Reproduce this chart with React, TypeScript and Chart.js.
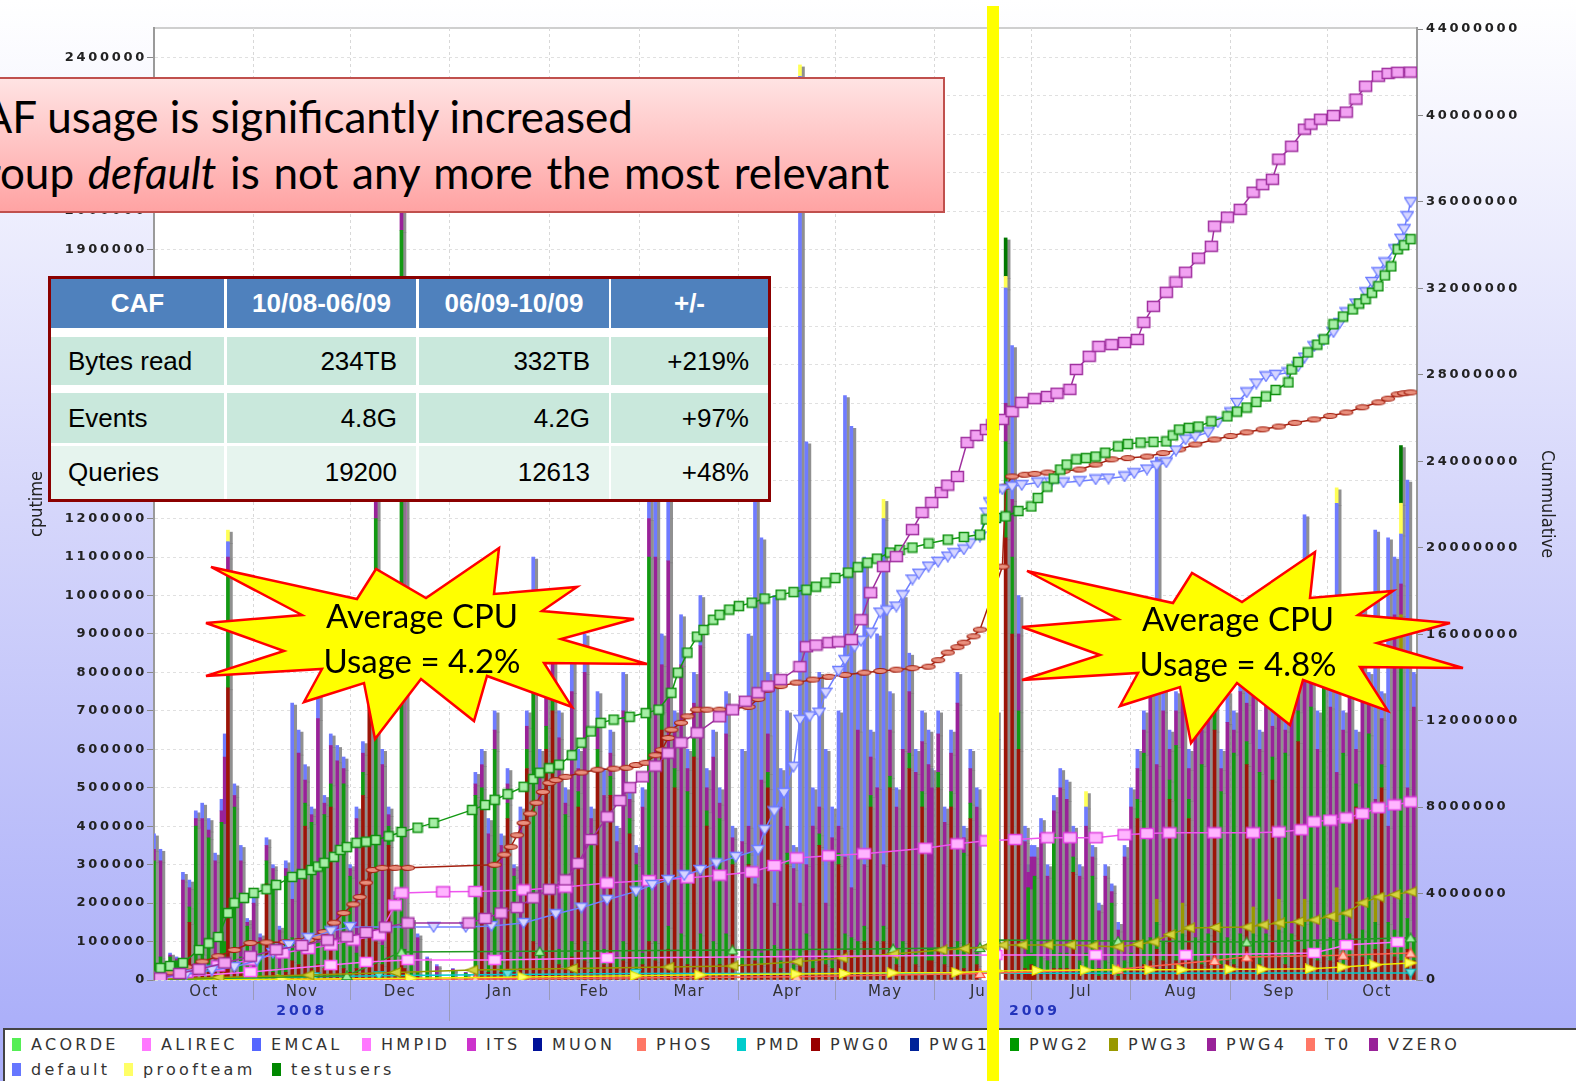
import React, { useEffect, useRef } from 'react';
import { Chart, registerables } from 'chart.js';
Chart.register(...registerables);

// ---------------- axis data ----------------
const MONTH_NAMES = ['Oct', 'Nov', 'Dec', 'Jan', 'Feb', 'Mar', 'Apr', 'May', 'Jun', 'Jul', 'Aug', 'Sep', 'Oct'];
const MONTH_MID_DAYS = [15.5, 46, 76.5, 107.5, 137, 166.5, 197, 227.5, 258, 288.5, 319.5, 350, 380.5];
const MONTH_START_DAYS = [31, 61, 92, 123, 151, 182, 212, 243, 273, 304, 335, 365];
const YEAR_LABELS = ['2008', '2009'];
const YEAR_LABEL_DAYS = [46, 274];
const YEAR_BREAK_DAY = 92;
const DAY_MIN = 0;
const DAY_MAX = 393;
const LEFT_TICKS = [0, 100000, 200000, 300000, 400000, 500000, 600000, 700000, 800000, 900000, 1000000, 1100000, 1200000, 1300000, 1400000, 1500000, 1600000, 1700000, 1800000, 1900000, 2000000, 2100000, 2200000, 2300000, 2400000];
const LEFT_MAX = 2476000;
const RIGHT_TICKS = [0, 4000000, 8000000, 12000000, 16000000, 20000000, 24000000, 28000000, 32000000, 36000000, 40000000, 44000000];
const RIGHT_MAX = 44050000;

// ---------------- daily cputime bars (thousands) ----------------
const BAR_DAYS = [
  0, 2, 5, 7, 9, 11, 13, 15, 17, 19, 21, 22, 23, 25, 27, 29,
  31, 33, 35, 37, 39, 41, 43, 45, 47, 49, 51, 53, 55, 57, 59,
  61, 63, 65, 67, 69, 71, 73, 75, 77, 78, 80, 82, 85, 88,
  93, 97, 100, 102, 104, 106, 108, 110, 112, 114, 116, 118, 120, 122,
  124, 126, 128, 130, 132, 134, 136, 138, 140, 142, 144, 146, 148, 150,
  152, 154, 156, 158, 160, 162, 164, 166, 168, 170, 172, 174, 176, 178, 180,
  183, 185, 187, 189, 191, 193, 195, 197, 199, 201, 203, 205, 207, 209, 211,
  213, 215, 217, 219, 221, 223, 225, 227, 229, 231, 233, 235, 237, 239, 241,
  242, 244, 246, 248, 250, 252, 254, 256, 262, 265, 267, 269, 271, 272, 273,
  274, 276, 278, 280, 282, 284, 286, 288, 290, 292, 294, 296, 298, 300, 302,
  304, 306, 308, 310, 312, 314, 316, 318, 320, 322, 324, 326, 328, 330, 332, 334,
  336, 338, 340, 342, 344, 346, 348, 350, 352, 354, 356, 358, 360, 362, 364,
  366, 368, 370, 372, 374, 376, 378, 380, 382, 384, 386, 388, 390, 392,
];
const PWG0_K = [
  10, 20, 5, 0, 20, 150, 20, 30, 20, 20, 30, 40, 760, 30, 20, 10,
  10, 10, 250, 20, 10, 20, 50, 40, 400, 30, 40, 30, 450, 40, 30,
  20, 30, 480, 800, 100, 40, 350, 20, 50, 30, 10, 10, 5, 5,
  5, 2, 30, 450, 20, 50, 20, 420, 20, 30, 550, 100, 30, 600,
  700, 40, 30, 60, 450, 50, 20, 550, 40, 480, 30, 50, 380, 20,
  40, 100, 50, 650, 80, 500, 60, 40, 580, 60, 400, 60, 40, 60, 300,
  40, 300, 50, 40, 500, 60, 30, 300, 20, 50, 80, 30, 350, 40, 30,
  300, 80, 80, 60, 100, 450, 60, 100, 500, 40, 60, 550, 40, 450, 50,
  50, 500, 40, 450, 60, 30, 420, 40, 500, 1150, 900, 600, 30, 20, 40,
  20, 20, 20, 30, 30, 30, 280, 20, 30, 20, 10, 20, 20, 10, 20,
  30, 420, 40, 50, 80, 50, 470, 50, 60, 420, 50, 40, 60, 650, 40, 50,
  40, 60, 560, 60, 40, 60, 520, 60, 40, 60, 620, 80, 60, 50, 60,
  50, 80, 40, 60, 450, 60, 40, 80, 500, 80, 60, 50, 80, 50,
];
const PWG2_K = [
  300, 40, 55, 50, 30, 40, 380, 40, 350, 30, 380, 60, 300, 420, 40, 130,
  20, 90, 60, 240, 20, 250, 60, 50, 60, 380, 60, 400, 60, 60, 480,
  250, 40, 60, 50, 1100, 50, 50, 190, 1900, 50, 130, 10, 45, 5,
  20, 15, 450, 50, 30, 550, 30, 40, 250, 30, 50, 800, 40, 60,
  50, 40, 400, 40, 40, 50, 360, 50, 40, 50, 30, 50, 40, 280,
  30, 1000, 50, 50, 60, 50, 60, 450, 60, 60, 40, 40, 380, 60, 30,
  20, 30, 30, 30, 40, 30, 20, 30, 20, 30, 40, 20, 30, 30, 20,
  30, 40, 30, 40, 40, 30, 40, 40, 30, 30, 40, 40, 30, 40, 30,
  30, 40, 30, 40, 40, 300, 40, 30, 40, 250, 200, 100, 30, 220, 30,
  250, 40, 30, 350, 40, 40, 40, 30, 40, 250, 20, 30, 180, 10, 30,
  40, 50, 550, 60, 70, 50, 50, 560, 60, 50, 60, 520, 60, 80, 450, 60,
  550, 60, 60, 60, 500, 60, 60, 70, 550, 60, 80, 70, 650, 50, 750,
  60, 70, 550, 60, 60, 70, 600, 70, 60, 70, 70, 800, 80, 60,
];
const PWG4_K = [
  30, 250, 5, 5, 210, 50, 20, 350, 20, 260, 30, 480, 40, 30, 250, 10,
  170, 10, 40, 30, 100, 20, 100, 500, 60, 20, 580, 30, 100, 470, 40,
  20, 350, 50, 30, 60, 470, 30, 10, 60, 70, 10, 90, 5, 25,
  3, 2, 30, 60, 330, 50, 300, 50, 20, 350, 60, 100, 480, 100,
  100, 550, 30, 650, 60, 700, 40, 80, 400, 60, 300, 600, 50, 30,
  380, 100, 1000, 120, 950, 100, 700, 60, 80, 750, 60, 480, 40, 520, 40,
  300, 70, 170, 450, 100, 110, 400, 70, 250, 120, 180, 350, 70, 130, 320,
  70, 200, 130, 550, 160, 100, 400, 160, 120, 380, 500, 160, 470, 130, 480,
  420, 100, 340, 100, 620, 40, 90, 380, 90, 100, 150, 200, 300, 40, 250,
  50, 320, 220, 60, 430, 400, 50, 220, 330, 50, 150, 220, 30, 110, 270,
  380, 80, 60, 700, 350, 600, 80, 90, 700, 80, 600, 90, 650, 120, 60, 560,
  60, 630, 100, 680, 60, 630, 80, 720, 60, 580, 100, 850, 80, 500, 80,
  600, 300, 60, 700, 90, 770, 90, 250, 120, 250, 820, 80, 340, 600,
];
const DEFAULT_K = [
  40, 30, 5, 5, 20, 20, 20, 40, 30, 20, 30, 60, 40, 30, 40, 10,
  20, 10, 20, 10, 10, 20, 510, 60, 40, 20, 60, 20, 30, 40, 30,
  10, 30, 30, 20, 40, 40, 20, 10, 40, 50, 10, 10, 5, 5,
  2, 1, 30, 40, 40, 50, 30, 40, 10, 40, 40, 100, 50, 40,
  100, 70, 40, 100, 50, 100, 30, 70, 70, 60, 40, 100, 30, 20,
  50, 100, 150, 80, 170, 50, 130, 50, 80, 130, 50, 70, 40, 110, 30,
  240, 500, 1000, 630, 160, 800, 100, 300, 60, 2150, 1100, 100, 350, 400, 80,
  300, 1200, 1200, 150, 800, 70, 400, 900, 100, 50, 400, 100, 60, 80, 90,
  50, 60, 40, 60, 80, 30, 50, 50, 70, 300, 400, 100, 40, 20, 30,
  30, 40, 30, 40, 50, 50, 30, 30, 50, 30, 20, 30, 20, 20, 30,
  50, 50, 50, 90, 800, 100, 50, 50, 80, 50, 90, 50, 80, 100, 50, 80,
  50, 100, 80, 100, 50, 100, 90, 100, 50, 100, 100, 150, 60, 100, 60,
  90, 700, 50, 80, 50, 100, 70, 700, 70, 750, 150, 130, 800, 90,
];
const ITS_DAYS = [78];
const ITS_K = [1150];
const PWG3_DAYS = [312, 320, 330, 342, 350, 358, 368, 380, 388];
const PWG3_K = [60, 80, 50, 70, 80, 60, 90, 70, 100];
const PROOF_DAYS = [23, 201, 227, 265, 290, 368, 388];
const PROOF_K = [30, 30, 50, 30, 40, 40, 80];
const TEST_DAYS = [265, 388];
const TEST_K = [100, 150];

// ---------------- cumulative lines (millions) ----------------
const A_DAYS = [2, 8, 14, 22, 30, 38, 46, 54, 60, 66, 72, 79, 98, 103, 108, 113, 118, 123, 128, 132, 136, 141, 145, 148, 152, 156, 160, 164, 169, 176, 180, 184, 188, 191, 195, 201, 203, 206, 210, 213, 217, 220, 223, 227, 231, 236, 239, 242, 245, 247, 250, 253, 256, 259, 261, 264, 267, 270, 274, 278, 281, 285, 287, 291, 294, 298, 302, 306, 308, 311, 315, 318, 321, 325, 329, 330, 334, 338, 342, 345, 348, 350, 354, 358, 360, 363, 367, 371, 374, 377, 381, 384, 387, 391];
const A_M = [0.09, 0.3, 0.5, 0.79, 1.1, 1.4, 1.6, 1.85, 2.0, 2.2, 2.45, 2.64, 2.64, 2.85, 3.10, 3.35, 3.8, 4.2, 4.63, 5.4, 6.5, 7.55, 8.3, 8.9, 9.40, 9.9, 10.5, 10.98, 11.44, 12.18, 12.5, 12.9, 13.29, 13.6, 13.90, 14.50, 15.42, 15.5, 15.61, 15.65, 15.75, 16.67, 17.92, 19.13, 19.59, 20.84, 21.63, 22.1, 22.56, 22.9, 23.30, 24.87, 25.2, 25.47, 25.7, 25.94, 26.3, 26.73, 26.9, 27.00, 27.15, 27.33, 28.25, 28.86, 29.32, 29.4, 29.50, 29.64, 30.43, 31.17, 31.82, 32.3, 32.75, 33.4, 33.95, 34.88, 35.3, 35.66, 36.45, 36.8, 37.05, 37.98, 38.58, 39.37, 39.6, 39.83, 40.0, 40.16, 40.76, 41.36, 41.82, 41.95, 42.0, 42.01];
const B_DAYS = [2, 5, 9, 14, 17, 20, 23, 25, 28, 31, 35, 38, 43, 46, 49, 51, 53, 56, 58, 60, 63, 66, 69, 73, 77, 82, 87, 99, 103, 106, 110, 115, 118, 120, 123, 126, 130, 133, 136, 139, 143, 148, 153, 157, 161, 163, 166, 169, 171, 174, 176, 179, 182, 186, 190, 195, 199, 203, 206, 209, 212, 216, 219, 222, 225, 229, 232, 236, 241, 247, 252, 257, 259, 262, 265, 269, 273, 275, 278, 280, 282, 284, 287, 290, 293, 296, 300, 303, 307, 311, 315, 317, 319, 322, 325, 329, 334, 337, 340, 343, 346, 349, 353, 354, 356, 359, 362, 364, 367, 370, 373, 375, 377, 379, 381, 383, 385, 387, 389, 391];
const B_M = [0.56, 0.65, 0.79, 1.39, 1.7, 1.99, 3.10, 3.57, 3.8, 4.03, 4.2, 4.40, 4.77, 4.9, 5.09, 5.25, 5.42, 5.7, 6.02, 6.15, 6.35, 6.4, 6.48, 6.65, 6.85, 7.05, 7.27, 7.87, 8.1, 8.34, 8.6, 8.94, 9.3, 9.59, 9.8, 9.96, 10.4, 10.98, 11.5, 11.90, 12.05, 12.18, 12.35, 12.51, 13.29, 14.22, 15.15, 15.89, 16.2, 16.67, 16.9, 17.14, 17.3, 17.46, 17.65, 17.83, 17.95, 18.06, 18.2, 18.39, 18.6, 18.85, 19.1, 19.31, 19.5, 19.78, 19.9, 20.01, 20.2, 20.38, 20.5, 20.61, 21.31, 21.38, 21.45, 21.7, 21.91, 22.3, 22.83, 23.2, 23.62, 23.85, 24.09, 24.15, 24.22, 24.4, 24.69, 24.8, 24.87, 24.9, 24.92, 25.2, 25.47, 25.55, 25.61, 25.85, 26.08, 26.3, 26.49, 26.75, 27.00, 27.3, 27.65, 28.25, 28.6, 29.04, 29.4, 29.64, 30.34, 30.7, 31.03, 31.3, 31.50, 31.8, 32.10, 32.6, 33.02, 33.81, 34.0, 34.28];
const C_DAYS = [2, 10, 18, 25, 32, 37, 42, 48, 55, 61, 87, 97, 105, 115, 125, 133, 141, 150, 155, 160, 165, 170, 175, 181, 188, 190, 193, 196, 199, 201, 204, 207, 209, 213, 215, 218, 220, 223, 226, 228, 231, 233, 236, 238, 241, 244, 247, 249, 252, 254, 257, 259, 260, 262, 264, 267, 270, 275, 279, 283, 288, 293, 297, 302, 305, 309, 312, 315, 318, 321, 324, 328, 331, 335, 337, 340, 343, 346, 349, 353, 356, 358, 361, 364, 367, 369, 371, 374, 377, 379, 381, 383, 386, 388, 389, 390, 391];
const C_M = [0.09, 0.25, 0.45, 0.60, 0.9, 1.25, 1.62, 1.95, 2.25, 2.45, 2.45, 2.45, 2.5, 2.64, 3.05, 3.35, 3.71, 4.1, 4.4, 4.63, 4.85, 5.09, 5.4, 5.7, 6.02, 6.95, 7.8, 8.66, 9.87, 12.04, 12.2, 12.37, 13.29, 14.3, 14.8, 15.42, 15.7, 16.07, 17.00, 17.1, 17.28, 17.8, 18.53, 18.8, 19.13, 19.35, 19.59, 19.75, 19.92, 20.2, 20.52, 21.63, 22.1, 22.56, 22.7, 22.83, 22.9, 23.02, 23.02, 23.02, 23.08, 23.16, 23.2, 23.30, 23.45, 23.62, 23.8, 23.95, 24.5, 25.01, 25.15, 25.34, 25.8, 26.26, 26.7, 27.19, 27.6, 27.93, 28.0, 28.11, 28.39, 28.8, 29.32, 29.6, 29.97, 30.4, 30.89, 31.3, 31.82, 32.3, 32.75, 33.2, 33.81, 34.3, 34.74, 35.34, 35.99];
const D_DAYS = [1, 5, 10, 15, 20, 25, 30, 35, 41, 45, 48, 51, 53, 56, 59, 62, 64, 66, 68, 71, 75, 79, 106, 109, 111, 113, 115, 117, 119, 121, 123, 125, 128, 133, 138, 143, 147, 150, 153, 156, 158, 160, 161, 164, 166, 169, 172, 176, 180, 185, 188, 191, 195, 200, 205, 210, 215, 221, 226, 231, 236, 241, 244, 247, 250, 252, 255, 257, 264, 265, 267, 271, 274, 278, 283, 288, 293, 298, 303, 309, 314, 319, 324, 330, 335, 340, 345, 350, 355, 361, 366, 371, 376, 381, 384, 387, 389, 391];
const D_M = [0.14, 0.35, 0.6, 0.85, 1.1, 1.39, 1.71, 1.74, 1.76, 1.8, 1.85, 2.0, 2.22, 2.65, 3.10, 3.5, 3.84, 4.5, 5.09, 5.19, 5.19, 5.19, 5.33, 5.8, 6.16, 6.7, 7.27, 7.7, 8.20, 8.7, 9.12, 9.25, 9.40, 9.6, 9.73, 9.78, 9.82, 9.95, 10.05, 10.4, 10.65, 11.2, 11.58, 11.90, 12.2, 12.51, 12.51, 12.51, 12.55, 12.64, 13.0, 13.43, 13.6, 13.76, 13.9, 14.03, 14.12, 14.22, 14.3, 14.36, 14.43, 14.50, 14.8, 15.15, 15.4, 15.61, 15.9, 16.21, 19.13, 22.83, 23.30, 23.38, 23.42, 23.48, 23.55, 23.62, 23.85, 24.09, 24.15, 24.22, 24.38, 24.55, 24.78, 25.01, 25.17, 25.34, 25.48, 25.61, 25.78, 25.94, 26.1, 26.26, 26.5, 26.73, 26.9, 27.10, 27.15, 27.19];
const E_DAYS = [2, 10, 20, 30, 40, 48, 55, 62, 70, 75, 77, 90, 100, 115, 128, 141, 154, 166, 176, 186, 193, 200, 210, 221, 240, 250, 259, 268, 278, 285, 293, 302, 309, 316, 330, 342, 350, 357, 361, 366, 371, 376, 381, 386, 391];
const E_M = [0.14, 0.35, 0.65, 0.93, 1.25, 1.45, 1.62, 1.85, 2.08, 3.47, 4.03, 4.08, 4.1, 4.17, 4.3, 4.49, 4.6, 4.72, 4.85, 5.00, 5.3, 5.65, 5.75, 5.84, 6.1, 6.3, 6.44, 6.5, 6.58, 6.58, 6.58, 6.72, 6.78, 6.81, 6.81, 6.81, 6.85, 6.95, 7.32, 7.4, 7.50, 7.7, 7.97, 8.1, 8.24];
const F_DAYS = [2, 30, 55, 66, 79, 106, 141, 262, 293, 321, 361, 371, 387];
const F_M = [0.09, 0.37, 0.69, 0.83, 0.93, 0.93, 1.02, 1.16, 1.16, 1.16, 1.25, 1.62, 1.76];
const G_DAYS = [2, 20, 48, 75, 99, 130, 160, 180, 200, 214, 230, 245, 252, 259, 264, 270, 278, 285, 292, 300, 306, 311, 316, 322, 330, 340, 345, 350, 356, 361, 366, 371, 376, 381, 386, 391];
const G_M = [0.05, 0.12, 0.23, 0.35, 0.46, 0.53, 0.60, 0.65, 0.85, 1.02, 1.2, 1.39, 1.45, 1.53, 1.62, 1.62, 1.62, 1.62, 1.58, 1.53, 1.65, 1.76, 2.1, 2.41, 2.43, 2.45, 2.55, 2.64, 2.7, 2.78, 2.95, 3.10, 3.57, 3.84, 3.95, 4.08];
const H_DAYS = [2, 60, 77, 120, 180, 230, 257, 262, 300, 340, 391];
const H_M = [0.02, 0.20, 1.30, 1.33, 1.39, 1.45, 1.50, 1.85, 1.80, 1.76, 1.95];
const I_DAYS = [2, 40, 80, 115, 150, 170, 200, 215, 230, 250, 262, 275, 290, 300, 310, 320, 335, 345, 360, 370, 380, 391];
const I_M = [0.0, 0.04, 0.08, 0.14, 0.2, 0.24, 0.28, 0.3, 0.33, 0.35, 0.42, 0.44, 0.46, 0.47, 0.47, 0.48, 0.5, 0.5, 0.52, 0.6, 0.7, 0.79];
const J_DAYS = [2, 100, 200, 257, 300, 330, 340, 370, 391];
const J_M = [0.0, 0.05, 0.15, 0.30, 0.50, 0.90, 1.07, 1.15, 1.25];
const K_DAYS = [2, 50, 70, 110, 150, 391];
const K_M = [0.0, 0.15, 0.2, 0.25, 0.3, 0.32];

// ---------------- legend / overlays ----------------
const LEGEND_ROW1 = ['ACORDE', 'ALIREC', 'EMCAL', 'HMPID', 'ITS', 'MUON', 'PHOS', 'PMD', 'PWG0', 'PWG1', 'PWG2', 'PWG3', 'PWG4', 'T0', 'VZERO'];
const LEGEND_ROW1_COLORS = ['#55ee55', '#ff77ff', '#5566ff', '#ff77ff', '#cc33cc', '#001199', '#ff7766', '#00cccc', '#990000', '#002299', '#009900', '#999900', '#992299', '#ff7766', '#992299'];
const LEGEND_ROW1_X = [12, 142, 252, 362, 467, 533, 637, 737, 811, 910, 1010, 1109, 1207, 1306, 1369];
const LEGEND_ROW2 = ['default', 'proofteam', 'testusers'];
const LEGEND_ROW2_COLORS = ['#6677ff', '#ffff66', '#008800'];
const LEGEND_ROW2_X = [12, 124, 272];

const TABLE_HEAD = ['CAF', '10/08-06/09', '06/09-10/09', '+/-'];
const TABLE_ROWS = [
  ['Bytes read', '234TB', '332TB', '+219%'],
  ['Events', '4.8G', '4.2G', '+97%'],
  ['Queries', '19200', '12613', '+48%'],
];
const BURST_POINTS: [number, number][] = [[1027, 571], [1173, 603], [1192, 573], [1242, 602], [1315, 552], [1310, 598], [1393, 591], [1358, 615], [1450, 623], [1377, 643], [1463, 668], [1360, 667], [1388, 711], [1303, 680], [1290, 725], [1237, 683], [1191, 743], [1180, 687], [1120, 706], [1138, 673], [1022, 680], [1100, 655], [1022, 627], [1118, 619]];
const CPU_USAGE = ['4.2%', '4.8%'];

const W = 1576;
const H = 1081;

function marker(w: number, h: number, shape: string, fill: string, stroke: string, lw = 1.3) {
  const c = document.createElement('canvas');
  c.width = w + 2;
  c.height = h + 2;
  const g = c.getContext('2d')!;
  g.fillStyle = fill;
  g.strokeStyle = stroke;
  g.lineWidth = lw;
  const x0 = 1, y0 = 1;
  g.beginPath();
  if (shape === 'rect') g.rect(x0 + 0.5, y0 + 0.5, w - 1, h - 1);
  else if (shape === 'ell') g.ellipse(x0 + w / 2, y0 + h / 2, w / 2 - 0.5, h / 2 - 0.5, 0, 0, Math.PI * 2);
  else if (shape === 'down') { g.moveTo(x0, y0 + 0.5); g.lineTo(x0 + w, y0 + 0.5); g.lineTo(x0 + w / 2, y0 + h); g.closePath(); }
  else if (shape === 'up') { g.moveTo(x0, y0 + h - 0.5); g.lineTo(x0 + w, y0 + h - 0.5); g.lineTo(x0 + w / 2, y0); g.closePath(); }
  else if (shape === 'left') { g.moveTo(x0 + w - 0.5, y0); g.lineTo(x0 + w - 0.5, y0 + h); g.lineTo(x0, y0 + h / 2); g.closePath(); }
  else if (shape === 'right') { g.moveTo(x0 + 0.5, y0); g.lineTo(x0 + 0.5, y0 + h); g.lineTo(x0 + w, y0 + h / 2); g.closePath(); }
  g.fill();
  g.stroke();
  return c;
}

const pts = (days: number[], vals: number[], mult: number) => days.map((d, i) => ({ x: d, y: vals[i] * mult }));

export default function App() {
  const ref = useRef<HTMLCanvasElement>(null);

  useEffect(() => {
    const lineDs = (label: string, days: number[], vals: number[], color: string, mk: HTMLCanvasElement, bw = 1.5) => ({
      type: 'line' as const,
      label,
      data: pts(days, vals, 1e6),
      xAxisID: 'x',
      yAxisID: 'y2',
      borderColor: color,
      borderWidth: bw,
      backgroundColor: color,
      pointStyle: mk,
      pointRadius: 5,
      pointHoverRadius: 5,
      tension: 0,
      fill: false,
      order: 0,
    });
    const barDs = (label: string, days: number[], vals: number[], color: string) => ({
      type: 'bar' as const,
      label,
      data: pts(days, vals, 1000),
      xAxisID: 'x',
      yAxisID: 'y',
      backgroundColor: color,
      borderWidth: 0,
      barThickness: 3,
      stack: 'cpu',
      order: 1,
    });

    const lines = [
      lineDs('PWG4 cumul', A_DAYS, A_M, '#a0309f', marker(13, 11, 'rect', '#f2a2f2', '#a0309f', 1.5)),
      lineDs('PWG2 cumul', B_DAYS, B_M, '#119911', marker(10, 10, 'rect', '#a6eea6', '#109010', 1.6)),
      lineDs('default cumul', C_DAYS, C_M, '#7080ff', marker(12, 10, 'down', '#d6d6ff', '#6c7cff', 1.3)),
      lineDs('PWG0 cumul', D_DAYS, D_M, '#a32010', marker(14, 6, 'ell', '#e9907e', '#a32010', 1.2)),
      lineDs('ALIREC cumul', E_DAYS, E_M, '#ee55ee', marker(14, 11, 'rect', '#ffb4ff', '#e040e0', 1.5)),
      lineDs('HMPID cumul', F_DAYS, F_M, '#ff66ff', marker(13, 10, 'rect', '#ffd0ff', '#ff55ff', 1.5)),
      lineDs('PWG3 cumul', G_DAYS, G_M, '#999900', marker(12, 9, 'left', '#d4d440', '#999900', 1.2)),
      lineDs('ACORDE cumul', H_DAYS, H_M, '#229922', marker(10, 9, 'up', '#a0f0a0', '#229922', 1.2)),
      lineDs('proofteam cumul', I_DAYS, I_M, '#eeee00', marker(12, 9, 'right', '#ffff60', '#e6e600', 1.2)),
      lineDs('T0 cumul', J_DAYS, J_M, '#ff6050', marker(10, 9, 'up', '#ffc4b4', '#ff5040', 1.2)),
      lineDs('PMD cumul', K_DAYS, K_M, '#00cccc', marker(10, 9, 'down', '#70e0e0', '#00b8b8', 1.2)),
    ];
    const bars = [
      barDs('PWG0', BAR_DAYS, PWG0_K, '#9c1408'),
      barDs('PWG2', BAR_DAYS, PWG2_K, '#129912'),
      barDs('PWG3', PWG3_DAYS, PWG3_K, '#999900'),
      barDs('PWG4', BAR_DAYS, PWG4_K, '#992299'),
      barDs('ITS', ITS_DAYS, ITS_K, '#ee44ee'),
      barDs('default', BAR_DAYS, DEFAULT_K, '#6f7bff'),
      barDs('proofteam', PROOF_DAYS, PROOF_K, '#ffff55'),
      barDs('testusers', TEST_DAYS, TEST_K, '#007700'),
    ];

    const xTicks = [...MONTH_START_DAYS, ...MONTH_MID_DAYS].sort((a, b) => a - b);
    const isStart = (v: any) => MONTH_START_DAYS.indexOf(v) >= 0;
    const tickFont = { family: "'DejaVu Sans', sans-serif", size: 13, weight: 'bold' as const };
    const titleFamily = "'Liberation Sans Narrow', 'DejaVu Sans Condensed', sans-serif";

    const bgPlugin = {
      id: 'plotbg',
      beforeDraw(chart: any) {
        const { ctx, chartArea: a } = chart;
        ctx.save();
        ctx.fillStyle = '#ffffff';
        ctx.fillRect(a.left, a.top, a.right - a.left, a.bottom - a.top);
        ctx.strokeStyle = '#cfcfcf';
        ctx.lineWidth = 2;
        ctx.beginPath();
        ctx.moveTo(a.left, a.top);
        ctx.lineTo(a.right, a.top);
        ctx.stroke();
        ctx.restore();
        const spacing: Record<string, string> = { y: '2.7px', y2: '2.7px', x: '1px', x2: '3px' };
        Object.keys(spacing).forEach((id) => {
          const sc = chart.scales[id];
          if (sc && !sc.__ls) {
            const orig = sc.drawLabels.bind(sc);
            sc.drawLabels = (area: any) => {
              const c = sc.ctx;
              c.save();
              c.letterSpacing = spacing[id];
              orig(area);
              c.restore();
            };
            sc.__ls = true;
          }
        });
      },
    };
    const shadowPlugin = {
      id: 'barshadow',
      beforeDatasetDraw(chart: any, args: any) {
        const ds = chart.data.datasets[args.index];
        if (ds.type !== 'bar') return;
        const c = chart.ctx;
        c.save();
        c.shadowColor = 'rgba(125,125,125,0.85)';
        c.shadowOffsetX = 3;
        c.shadowOffsetY = 2;
        c.shadowBlur = 0;
      },
      afterDatasetDraw(chart: any, args: any) {
        const ds = chart.data.datasets[args.index];
        if (ds.type !== 'bar') return;
        chart.ctx.restore();
      },
    };

    const chart = new Chart(ref.current!, {
      type: 'bar',
      data: { datasets: [...lines, ...bars] as any },
      plugins: [bgPlugin, shadowPlugin],
      options: {
        animation: false,
        responsive: false,
        devicePixelRatio: 1,
        events: [],
        layout: { padding: { top: 28, left: 0, right: 0, bottom: 55 } },
        plugins: { legend: { display: false }, tooltip: { enabled: false } },
        scales: {
          x: {
            type: 'linear',
            position: 'bottom',
            min: DAY_MIN,
            max: DAY_MAX,
            stacked: true,
            offset: false,
            weight: 0,
            bounds: 'data',
            afterBuildTicks: (s: any) => { s.ticks = xTicks.map((v) => ({ value: v })); },
            afterFit: (s: any) => { s.height = 20; },
            ticks: {
              autoSkip: false,
              maxRotation: 0,
              minRotation: 0,
              padding: -17,
              color: '#333',
              font: { family: "'DejaVu Sans', sans-serif", size: 15 },
              callback: (v: any) => {
                const i = MONTH_MID_DAYS.indexOf(v);
                return i >= 0 ? MONTH_NAMES[i] : '';
              },
            },
            grid: {
              offset: false,
              color: (ctx: any) => (ctx.tick && isStart(ctx.tick.value) ? '#d8d8d8' : 'rgba(0,0,0,0)'),
              tickColor: (ctx: any) => (ctx.tick && isStart(ctx.tick.value) ? '#9a9ab8' : 'rgba(0,0,0,0)'),
              tickLength: 20,
              lineWidth: 1,
            },
            border: { display: false, dash: [3, 3] },
          } as any,
          x2: {
            type: 'linear',
            position: 'bottom',
            min: DAY_MIN,
            max: DAY_MAX,
            offset: false,
            weight: 1,
            bounds: 'data',
            afterBuildTicks: (s: any) => {
              s.ticks = [YEAR_LABEL_DAYS[0], YEAR_BREAK_DAY, YEAR_LABEL_DAYS[1]].map((v) => ({ value: v }));
            },
            afterFit: (s: any) => { s.height = 26; },
            ticks: {
              autoSkip: false,
              maxRotation: 0,
              padding: -18,
              color: '#2233bb',
              font: { family: "'DejaVu Sans', sans-serif", size: 14, weight: 'bold' },
              callback: (v: any) => {
                const i = YEAR_LABEL_DAYS.indexOf(v);
                return i >= 0 ? YEAR_LABELS[i] : '';
              },
            },
            grid: {
              offset: false,
              drawOnChartArea: false,
              tickLength: 21,
              tickColor: (ctx: any) => (ctx.tick && ctx.tick.value === YEAR_BREAK_DAY ? '#9a9ab8' : 'rgba(0,0,0,0)'),
            },
            border: { display: false },
          } as any,
          y: {
            type: 'linear',
            position: 'left',
            min: 0,
            max: LEFT_MAX,
            stacked: true,
            bounds: 'data',
            afterBuildTicks: (s: any) => { s.ticks = LEFT_TICKS.map((v) => ({ value: v })); },
            afterFit: (s: any) => { s.width = 154; },
            ticks: { color: '#222', font: tickFont, padding: 0, callback: (v: any) => String(v) },
            grid: { color: '#e0e0e0', tickColor: '#888', tickLength: 7, lineWidth: 1 },
            border: { display: true, color: '#9a9a9a', width: 2, dash: [3, 3] },
            title: {
              display: true,
              text: 'cputime',
              color: '#222',
              font: { family: titleFamily, size: 18 },
              padding: { top: 27, bottom: 0 },
            },
          } as any,
          y2: {
            type: 'linear',
            position: 'right',
            min: 0,
            max: RIGHT_MAX,
            stacked: false,
            bounds: 'data',
            afterBuildTicks: (s: any) => { s.ticks = RIGHT_TICKS.map((v) => ({ value: v })); },
            afterFit: (s: any) => { s.width = W - 1417; },
            ticks: { color: '#222', font: tickFont, padding: 3, callback: (v: any) => String(v) },
            grid: { drawOnChartArea: false, tickColor: '#888', tickLength: 6 },
            border: { display: true, color: '#9a9a9a', width: 2 },
            title: {
              display: true,
              text: 'Cummulative',
              color: '#222',
              font: { family: titleFamily, size: 18 },
              padding: { top: 19, bottom: 0 },
            },
          } as any,
        },
      },
    } as any);
    return () => chart.destroy();
  }, []);

  const burstPoly = (dx: number, dy: number) => BURST_POINTS.map(([x, y]) => `${x + dx},${y + dy}`).join(' ');
  const colLeft = [51, 227, 419, 611];
  const colRight = [224, 416, 609, 768];
  const rowTop = [337, 393, 446];
  const rowBottom = [385, 443, 499];
  const rowBg = ['#c9e8dc', '#c9e8dc', '#e6f4ee'];

  return (
    <div
      style={{
        position: 'absolute',
        left: 0,
        top: 0,
        width: W,
        height: H,
        overflow: 'hidden',
        background: 'linear-gradient(to bottom, #ffffff 0px, #d6d7fb 500px, #abaff9 1030px)',
      }}
    >
      <canvas ref={ref} width={W} height={H} style={{ position: 'absolute', left: 0, top: 0, width: W, height: H }} />

      {/* legend */}
      <div
        style={{
          position: 'absolute',
          left: 3,
          top: 1028,
          width: W,
          height: 60,
          background: '#fff',
          borderTop: '2px solid #444',
          borderLeft: '2px solid #444',
        }}
      />
      {LEGEND_ROW1.map((t, i) => (
        <div key={'l1' + t + i} style={{ position: 'absolute', left: LEGEND_ROW1_X[i], top: 1034, height: 20, display: 'flex', alignItems: 'center', whiteSpace: 'nowrap' }}>
          <div style={{ width: 9, height: 13, background: LEGEND_ROW1_COLORS[i], marginRight: 10 }} />
          <span style={{ font: "16px 'DejaVu Sans', sans-serif", letterSpacing: '3.3px', color: '#333' }}>{t}</span>
        </div>
      ))}
      {LEGEND_ROW2.map((t, i) => (
        <div key={'l2' + t} style={{ position: 'absolute', left: LEGEND_ROW2_X[i], top: 1059, height: 20, display: 'flex', alignItems: 'center', whiteSpace: 'nowrap' }}>
          <div style={{ width: 9, height: 13, background: LEGEND_ROW2_COLORS[i], marginRight: 10 }} />
          <span style={{ font: "16px 'DejaVu Sans', sans-serif", letterSpacing: '3.3px', color: '#333' }}>{t}</span>
        </div>
      ))}

      {/* starbursts */}
      <svg width={W} height={H} style={{ position: 'absolute', left: 0, top: 0 }}>
        <polygon points={burstPoly(-816, -4)} fill="#ffff00" stroke="#ff0000" strokeWidth={2.5} strokeLinejoin="miter" />
        <polygon points={burstPoly(0, 0)} fill="#ffff00" stroke="#ff0000" strokeWidth={2.5} strokeLinejoin="miter" />
      </svg>
      {[[422, 615, 0], [1238, 618, 1]].map(([cx, cy, k]) => (
        <div key={'bt' + k} style={{ position: 'absolute', left: cx - 160, top: cy - 22, width: 320, textAlign: 'center', font: "33px Lato, 'Open Sans', sans-serif", lineHeight: '45px', color: '#000' }}>
          <div>Average CPU</div>
          <div>Usage = {CPU_USAGE[k]}</div>
        </div>
      ))}

      {/* callout */}
      <div
        style={{
          position: 'absolute',
          left: -10,
          top: 77,
          width: 955,
          height: 136,
          boxSizing: 'border-box',
          border: '2px solid #c0504d',
          background: 'linear-gradient(to bottom, #ffe3e3, #ffa3a3)',
        }}
      />
      <div style={{ position: 'absolute', left: -47, top: 90, font: "44px Lato, 'Open Sans', sans-serif", lineHeight: '53px', whiteSpace: 'nowrap', color: '#000' }}>
        CAF usage is significantly increased
      </div>
      <div style={{ position: 'absolute', left: -47, top: 146, font: "44px Lato, 'Open Sans', sans-serif", lineHeight: '53px', whiteSpace: 'nowrap', color: '#000', wordSpacing: '2.5px' }}>
        Group <i>default</i> is not any more the most relevant
      </div>

      {/* table */}
      <div style={{ position: 'absolute', left: 48, top: 276, width: 723, height: 226, boxSizing: 'border-box', border: '3px solid #8b0000', background: '#fff' }} />
      {TABLE_HEAD.map((t, c) => (
        <div
          key={'th' + c}
          style={{
            position: 'absolute',
            left: colLeft[c],
            top: 279,
            width: colRight[c] - colLeft[c],
            height: 49,
            background: '#4f81bd',
            color: '#fff',
            font: "bold 26px 'Liberation Sans', Arial, sans-serif",
            display: 'flex',
            alignItems: 'center',
            justifyContent: 'center',
          }}
        >
          {t}
        </div>
      ))}
      {TABLE_ROWS.map((row, r) =>
        row.map((t, c) => (
          <div
            key={'td' + r + c}
            style={{
              position: 'absolute',
              left: colLeft[c],
              top: rowTop[r],
              width: colRight[c] - colLeft[c],
              height: rowBottom[r] - rowTop[r],
              boxSizing: 'border-box',
              background: rowBg[r],
              color: '#000',
              font: "26px 'Liberation Sans', Arial, sans-serif",
              display: 'flex',
              alignItems: 'center',
              justifyContent: c === 0 ? 'flex-start' : 'flex-end',
              paddingLeft: c === 0 ? 17 : 0,
              paddingRight: c === 0 ? 0 : 19,
            }}
          >
            {t}
          </div>
        ))
      )}

      {/* yellow marker line */}
      <div style={{ position: 'absolute', left: 987, top: 6, width: 12, height: H, background: '#ffff00' }} />
    </div>
  );
}
